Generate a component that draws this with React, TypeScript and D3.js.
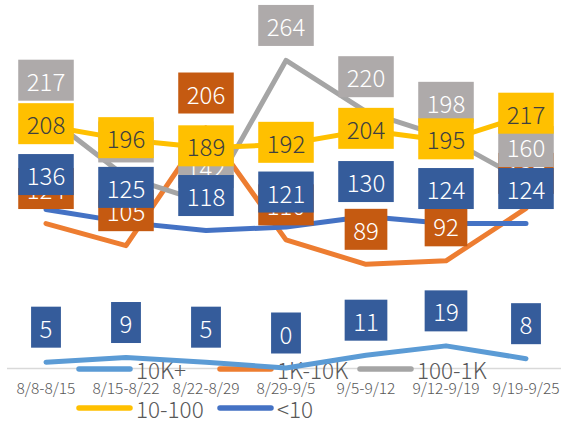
import React, { useEffect, useRef } from "react";
import * as d3 from "d3";

const categories = ["8/8-8/15", "8/15-8/22", "8/22-8/29", "8/29-9/5", "9/5-9/12", "9/12-9/19", "9/19-9/25"];
const seriesNames = ["10K+", "1K-10K", "100-1K", "10-100", "<10"];
const values10KPlus = [5, 9, 5, 0, 11, 19, 8];
const values1K10K = [124, 105, 206, 110, 89, 92, 137];
const values100_1K = [217, 164, 142, 264, 220, 198, 160];
const values10_100 = [208, 196, 189, 192, 204, 195, 217];
const valuesUnder10 = [136, 125, 118, 121, 130, 124, 124];

const lineColors = ["#5B9BD5", "#ED7D31", "#A5A5A5", "#FFC000", "#4472C4"];
const boxColors = ["#355C9B", "#C55A11", "#AEAAAA", "#FFC000", "#355C9B"];
const boxText = ["#FFFFFF", "#FFFFFF", "#FFFFFF", "#404040", "#FFFFFF"];
const labelPos = ["above", "above", "above", "center", "above"];

const W = 561;
const H = 421;
const FONT = "'Noto Sans CJK SC', 'Noto Sans', sans-serif";

export default function App() {
  const ref = useRef<SVGSVGElement | null>(null);

  useEffect(() => {
    const svg = d3.select(ref.current);
    svg.selectAll("*").remove();
    const allSeries = [values10KPlus, values1K10K, values100_1K, values10_100, valuesUnder10];

    const x = d3.scalePoint<string>().domain(categories).range([46, 526]);
    const y = d3.scaleLinear().domain([0, 300]).range([368, 18.5]);

    // axis line
    svg.append("line")
      .attr("x1", 7).attr("x2", W)
      .attr("y1", y(0) + 0.5).attr("y2", y(0) + 0.5)
      .attr("stroke", "#D9D9D9").attr("stroke-width", 1.5);

    // tick labels
    svg.append("g").selectAll("text").data(categories).join("text")
      .attr("x", (d) => x(d)!)
      .attr("y", 387)
      .attr("text-anchor", "middle")
      .attr("dominant-baseline", "central")
      .attr("font-family", FONT)
      .attr("font-size", 15.5)
      .attr("font-weight", 300)
      .attr("fill", "#595959")
      .text((d) => d);

    // legend
    const legendItems = [
      { name: seriesNames[0], c: lineColors[0], lx: 77, ly: 369 },
      { name: seriesNames[1], c: lineColors[1], lx: 218, ly: 369 },
      { name: seriesNames[2], c: lineColors[2], lx: 358, ly: 369 },
      { name: seriesNames[3], c: lineColors[3], lx: 77, ly: 408 },
      { name: seriesNames[4], c: lineColors[4], lx: 218, ly: 408 },
    ];
    const lg = svg.append("g");
    legendItems.forEach((it) => {
      lg.append("line")
        .attr("x1", it.lx + 2).attr("x2", it.lx + 53)
        .attr("y1", it.ly).attr("y2", it.ly)
        .attr("stroke", it.c).attr("stroke-width", 5.5).attr("stroke-linecap", "round");
      lg.append("text")
        .attr("x", it.lx + 59).attr("y", it.ly)
        .attr("dominant-baseline", "central")
        .attr("font-family", FONT).attr("font-size", 22.5)
        .attr("font-weight", 300)
        .attr("fill", "#595959")
        .text(it.name);
    });

    // lines
    const line = d3.line<number>()
      .x((_, i) => x(categories[i])!)
      .y((d) => y(d));
    allSeries.forEach((vals, si) => {
      svg.append("path")
        .attr("d", line(vals)!)
        .attr("fill", "none")
        .attr("stroke", lineColors[si])
        .attr("stroke-width", 5)
        .attr("stroke-linecap", "round")
        .attr("stroke-linejoin", "round");
    });

    // data labels
    allSeries.forEach((vals, si) => {
      const g = svg.append("g");
      vals.forEach((v, i) => {
        const cx = x(categories[i])!;
        const cy = labelPos[si] === "center" ? y(v) - 2 : y(v) - 35;
        const rect = g.append("rect").attr("fill", boxColors[si]);
        const t = g.append("text")
          .attr("x", cx).attr("y", cy)
          .attr("text-anchor", "middle")
          .attr("dominant-baseline", "central")
          .attr("font-family", FONT).attr("font-size", 24)
          .attr("font-weight", 300)
          .attr("fill", boxText[si])
          .text(String(v));
        const tw = (t.node() as SVGTextElement).getComputedTextLength();
        const bw = tw + 17;
        const bh = 41;
        rect.attr("x", cx - bw / 2).attr("y", cy - bh / 2).attr("width", bw).attr("height", bh);
      });
    });
  }, []);

  return (
    <svg
      ref={ref}
      width={W}
      height={H}
      style={{ position: "absolute", left: 0, top: 0, background: "#fff" }}
    />
  );
}
